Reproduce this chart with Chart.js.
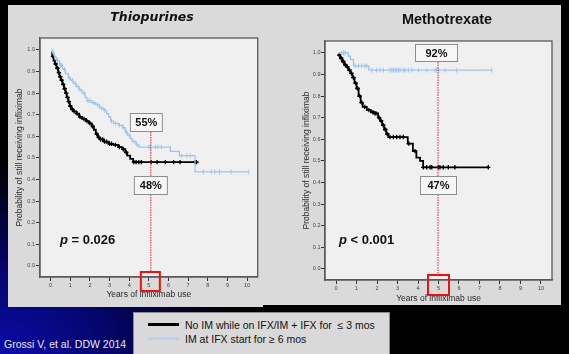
<!DOCTYPE html>
<html>
<head>
<meta charset="utf-8">
<title>Infliximab persistence - Thiopurines vs Methotrexate</title>
<script src="https://cdn.jsdelivr.net/npm/chart.js@4.4.1/dist/chart.umd.min.js"></script>
<style>
body {
  margin: 0; width: 569px; height: 354px; overflow: hidden; position: relative;
  background-color: #000;
  background-image: radial-gradient(ellipse 240px 190px at 0% 100%, #0b0ba8 0%, #05056c 45%, #000 100%);
  font-family: "Liberation Sans", Arial, sans-serif;
}
#panel { position: absolute; left: 8px; top: 5px; width: 553px; height: 300px; background: #dadada; }
#panelL { position: absolute; left: 8px; top: 305px; width: 255px; height: 2px; background: #dadada; }
canvas { position: absolute; }
#c1 { left: 8px; top: 5px; }
#c2 { left: 283px; top: 5px; }
#legend {
  position: absolute; left: 133px; top: 312px; width: 257px; height: 44px;
  background: #d9d9d9; border: 1px solid #8c8c8c; box-sizing: border-box;
}
.row { position: absolute; left: 0; height: 14px; font-size: 10.5px; color: #111; white-space: pre; }
.row span.sw { position: absolute; left: 14px; top: 5px; width: 31px; height: 3px; }
.row span.tx { position: absolute; left: 51px; top: 0; line-height: 14px; }
#cite { position: absolute; left: 4px; top: 338px; font-size: 10.5px; color: #e6e6e6; }
</style>
</head>
<body>
<div id="panel"></div>
<div id="panelL"></div>
<canvas id="c1" width="255" height="302"></canvas>
<canvas id="c2" width="277" height="300"></canvas>
<div id="legend"></div>
<div id="cite">Grossi V, et al. DDW 2014</div>

<script>
// ---- data ----
const xTicks = [0, 1, 2, 3, 4, 5, 6, 7, 8, 9, 10];
const yTicks = [0, 0.1, 0.2, 0.3, 0.4, 0.5, 0.6, 0.7, 0.8, 0.9, 1.0];
const seriesNames = ['No IM while on IFX/IM + IFX for  \u2264 3 mos', 'IM at IFX start for \u2265 6 mos'];
const seriesColors = ['#000000', '#9fc4ea'];
const legendColors = ['#000000', '#b7d3f2'];

// Thiopurines, no IM
const thioNoTime = [0.05, 0.08, 0.15, 0.22, 0.3, 0.38, 0.45, 0.52, 0.6, 0.68, 0.75, 0.82, 0.9, 0.97, 1.05, 1.15, 1.3, 1.45, 1.6, 1.8, 1.95, 2.1, 2.2, 2.3, 2.4, 2.5, 2.7, 2.95, 3.2, 3.45, 3.65, 3.8, 3.9, 4.05, 4.2, 7.45];
const thioNoSurv = [0.99, 0.97, 0.95, 0.935, 0.915, 0.895, 0.875, 0.86, 0.84, 0.82, 0.8, 0.78, 0.76, 0.74, 0.725, 0.715, 0.705, 0.69, 0.68, 0.67, 0.66, 0.645, 0.63, 0.61, 0.595, 0.585, 0.575, 0.565, 0.56, 0.55, 0.54, 0.525, 0.51, 0.495, 0.48, 0.48];
const thioNoCensor = [0.12, 0.25, 0.35, 0.42, 0.5, 0.56, 0.64, 0.72, 0.8, 0.86, 0.93, 1.0, 1.1, 1.2, 1.35, 1.5, 1.7, 1.85, 2.0, 2.15, 2.35, 2.45, 2.55, 2.65, 2.75, 2.85, 3.0, 3.1, 3.3, 3.5, 3.7, 3.85, 4.24, 4.35, 4.49, 4.62, 5.12, 5.42, 5.84, 6.26, 6.59, 7.35, 7.43];
// Thiopurines, IM >= 6 mos
const thioImTime = [0.05, 0.1, 0.2, 0.3, 0.45, 0.6, 0.75, 0.9, 1.0, 1.15, 1.3, 1.45, 1.6, 1.75, 1.85, 2.1, 2.3, 2.5, 2.7, 2.85, 2.95, 3.05, 3.2, 3.45, 3.65, 3.8, 3.9, 4.05, 4.15, 4.35, 4.5, 6.1, 6.55, 7.35, 10.1];
const thioImSurv = [1.0, 0.985, 0.965, 0.95, 0.93, 0.91, 0.89, 0.87, 0.86, 0.845, 0.83, 0.815, 0.8, 0.78, 0.765, 0.755, 0.745, 0.73, 0.72, 0.705, 0.69, 0.67, 0.66, 0.65, 0.64, 0.62, 0.605, 0.59, 0.575, 0.56, 0.55, 0.53, 0.51, 0.435, 0.435];
const thioImCensor = [0.15, 0.35, 0.5, 0.55, 0.7, 0.95, 1.1, 1.25, 1.4, 1.5, 1.7, 1.9, 2.0, 2.2, 2.4, 2.6, 2.75, 3.1, 3.3, 3.5, 3.7, 3.85, 4.0, 4.25, 4.4, 5.0, 5.08, 5.33, 5.46, 5.64, 6.67, 6.93, 7.1, 7.77, 8.18, 8.35, 8.6, 9.19, 10.08];

// Methotrexate, no IM
const mtxNoTime = [0.1, 0.2, 0.3, 0.4, 0.5, 0.6, 0.7, 0.8, 0.9, 1.0, 1.1, 1.2, 1.3, 1.5, 1.7, 1.85, 2.05, 2.15, 2.25, 2.35, 2.45, 2.55, 3.5, 3.75, 3.92, 4.1, 4.25, 7.43];
const mtxNoSurv = [0.99, 0.975, 0.96, 0.945, 0.935, 0.92, 0.905, 0.885, 0.86, 0.835, 0.8, 0.77, 0.75, 0.735, 0.725, 0.72, 0.7, 0.685, 0.665, 0.645, 0.625, 0.61, 0.58, 0.545, 0.515, 0.5, 0.47, 0.47];
const mtxNoCensor = [0.15, 0.25, 0.35, 0.45, 0.55, 0.65, 0.75, 0.85, 0.95, 1.05, 1.15, 1.25, 1.4, 1.6, 1.8, 1.9, 1.95, 2.1, 2.2, 2.3, 2.4, 2.5, 2.63, 2.8, 2.96, 3.12, 3.28, 3.55, 3.85, 4.26, 4.42, 4.59, 4.67, 4.99, 5.07, 5.23, 5.48, 5.8, 7.43];
// Methotrexate, IM >= 6 mos
const mtxImTime = [0.1, 0.6, 0.7, 0.85, 1.6, 7.6];
const mtxImSurv = [1.0, 0.985, 0.97, 0.94, 0.92, 0.92];
const mtxImCensor = [0.28, 0.36, 0.44, 0.93, 1.09, 1.25, 1.41, 1.5, 1.74, 1.98, 2.15, 2.31, 2.63, 2.72, 2.8, 2.88, 2.96, 3.04, 3.12, 3.28, 3.37, 3.53, 3.7, 4.02, 4.43, 4.83, 4.91, 5.0, 5.32, 5.89, 7.6];

// ---- helpers ----
function steps(times, surv) {
  return times.map((t, i) => ({ x: t, y: surv[i] }));
}
function survAt(times, surv, t) {
  let s = surv[0];
  for (let i = 0; i < times.length; i++) { if (times[i] <= t) s = surv[i]; }
  return s;
}
function censors(times, surv, cens) {
  return cens.map(t => ({ x: t, y: survAt(times, surv, t) }));
}

Chart.defaults.font.family = '"Liberation Sans", Arial, sans-serif';

const panelDecor = {
  id: 'panelDecor',
  beforeDraw(chart, args, o) {
    const { ctx, chartArea: a } = chart;
    ctx.save();
    ctx.fillStyle = '#f0f0f0';
    ctx.fillRect(a.left, a.top, a.right - a.left, a.bottom - a.top);
    ctx.restore();
  },
  afterDatasetsDraw(chart, args, o) {
    const { ctx, chartArea: a, scales: { x } } = chart;
    const mx = x.getPixelForValue(o.markYear);
    ctx.save();
    // frame
    ctx.strokeStyle = '#5a5a5a';
    ctx.lineWidth = 1.3;
    ctx.strokeRect(a.left, a.top, a.right - a.left, a.bottom - a.top);
    // red dotted line
    ctx.strokeStyle = '#e8202a';
    ctx.lineWidth = 1;
    ctx.setLineDash([1.5, 1]);
    ctx.beginPath();
    ctx.moveTo(mx + o.lineShift, o.lineFrom);
    ctx.lineTo(mx + o.lineShift, o.lineTo);
    ctx.stroke();
    ctx.setLineDash([]);
    // red box round the tick
    ctx.strokeStyle = '#ee1111';
    ctx.lineWidth = 2;
    ctx.strokeRect(mx + o.red.dx - o.red.w / 2, o.red.top, o.red.w, o.red.h);
    // percentage boxes
    o.boxes.forEach(b => {
      const cx = mx + b.dx;
      ctx.fillStyle = '#f6f6f6';
      ctx.fillRect(cx - b.w / 2, b.cy - b.h / 2, b.w, b.h);
      ctx.strokeStyle = '#8e8e8e';
      ctx.lineWidth = 1;
      ctx.strokeRect(cx - b.w / 2 + 0.5, b.cy - b.h / 2 + 0.5, b.w - 1, b.h - 1);
      ctx.fillStyle = '#111';
      ctx.font = 'bold 11px "Liberation Sans", Arial, sans-serif';
      ctx.textAlign = 'center';
      ctx.textBaseline = 'middle';
      ctx.fillText(b.text, cx, b.cy + 0.5);
    });
    // p value
    ctx.textAlign = 'left';
    ctx.textBaseline = 'middle';
    ctx.fillStyle = '#111';
    ctx.font = 'italic bold 13px "Liberation Sans", Arial, sans-serif';
    ctx.fillText('p', o.pX, o.pY);
    const w = ctx.measureText('p').width;
    ctx.font = 'bold 13px "Liberation Sans", Arial, sans-serif';
    ctx.fillText(o.pRest, o.pX + w, o.pY);
    // panel title
    ctx.font = o.titleFont;
    ctx.textAlign = 'center';
    ctx.fillText(o.title, o.titleX, o.titleY);
    ctx.restore();
  }
};

function makeChart(id, curves, c) {
  const datasets = [];
  curves.forEach((cv, i) => {
    datasets.push({
      data: steps(cv.t, cv.s), showLine: true, stepped: true,
      borderColor: seriesColors[i], borderWidth: i === 0 ? 1.8 : 1.3,
      pointRadius: 0, order: 1 - i
    });
    datasets.push({
      data: censors(cv.t, cv.s, cv.c), showLine: false,
      pointStyle: i === 0 ? 'cross' : 'line', rotation: i === 0 ? 0 : 90,
      pointRadius: i === 0 ? 2.2 : 2.4, pointBorderWidth: i === 0 ? 1.3 : 1,
      pointBorderColor: seriesColors[i], pointBackgroundColor: seriesColors[i], order: 1 - i
    });
  });
  return new Chart(document.getElementById(id), {
    type: 'scatter',
    data: { datasets },
    options: {
      responsive: false, animation: false, devicePixelRatio: 1, events: [],
      layout: { padding: { left: 0, top: c.padTop, right: c.padRight, bottom: 0 } },
      scales: {
        x: {
          type: 'linear', min: -0.54, max: 10.54,
          afterBuildTicks: s => { s.ticks = xTicks.map(v => ({ value: v })); },
          afterFit: s => { s.height = c.xHeight; },
          grid: { drawOnChartArea: false, drawTicks: true, tickLength: 4, color: '#333' },
          border: { display: true, color: '#5a5a5a', width: 1.3 },
          ticks: { font: { size: 5.5 }, color: '#444', padding: 1, maxRotation: 0, autoSkip: false,
                   callback: v => String(v) },
          title: { display: true, text: 'Years of infliximab use', color: '#2a2a2a',
                   font: { size: 8.5 }, padding: { top: 0, bottom: c.xTitlePad } }
        },
        y: {
          type: 'linear', min: -0.052, max: 1.055,
          afterBuildTicks: s => { s.ticks = yTicks.map(v => ({ value: v })); },
          afterFit: s => { s.width = c.yWidth; },
          grid: { drawOnChartArea: false, drawTicks: true, tickLength: 4, color: '#333' },
          border: { display: true, color: '#5a5a5a', width: 1.3 },
          ticks: { font: { size: 5.5 }, color: '#444', padding: c.yTickPad, autoSkip: false,
                   callback: v => v.toFixed(1) },
          title: { display: true, text: 'Probability of still receiving infliximab', color: '#2a2a2a',
                   font: { size: 8.5 }, padding: { top: c.yTitlePad, bottom: 0 } }
        }
      },
      plugins: {
        legend: { display: false },
        tooltip: { enabled: false },
        panelDecor: c.decor
      }
    },
    plugins: [panelDecor]
  });
}

makeChart('c1', [
  { t: thioNoTime, s: thioNoSurv, c: thioNoCensor },
  { t: thioImTime, s: thioImSurv, c: thioImCensor }
], {
  padTop: 33, padRight: 3, xHeight: 30, yWidth: 32, xTitlePad: 7, yTitlePad: 7, yTickPad: 1,
  decor: {
    markYear: 5, lineShift: 2, lineFrom: 127, lineTo: 267,
    red: { dx: 1.5, top: 267, w: 19, h: 19 },
    boxes: [
      { text: '55%', dx: -2.5, cy: 117.5, w: 33, h: 19 },
      { text: '48%', dx: 2, cy: 180.5, w: 34, h: 19 }
    ],
    pX: 52, pY: 235, pRest: ' = 0.026',
    title: 'Thiopurines', titleFont: 'italic bold 12.5px "DejaVu Sans", sans-serif', titleX: 144, titleY: 13
  }
});

makeChart('c2', [
  { t: mtxNoTime, s: mtxNoSurv, c: mtxNoCensor },
  { t: mtxImTime, s: mtxImSurv, c: mtxImCensor }
], {
  padTop: 36, padRight: 8, xHeight: 25, yWidth: 42, xTitlePad: 1, yTitlePad: 18.5, yTickPad: 0.5,
  decor: {
    markYear: 5, lineShift: -0.5, lineFrom: 57, lineTo: 270,
    red: { dx: 0, top: 270, w: 21, h: 20 },
    boxes: [
      { text: '92%', dx: -2, cy: 48, w: 43, h: 18 },
      { text: '47%', dx: 0, cy: 180.5, w: 37, h: 19 }
    ],
    pX: 56, pY: 235, pRest: ' < 0.001',
    title: 'Methotrexate', titleFont: 'bold 14.5px "Liberation Sans", Arial, sans-serif', titleX: 164, titleY: 15
  }
});

// legend box under the panels
const legend = document.getElementById('legend');
seriesNames.forEach((name, i) => {
  const row = document.createElement('div');
  row.className = 'row';
  row.style.top = (5 + i * 14) + 'px';
  row.innerHTML = '<span class="sw" style="background:' + legendColors[i] + '"></span><span class="tx"></span>';
  row.querySelector('.tx').textContent = name;
  legend.appendChild(row);
});
</script>
</body>
</html>
